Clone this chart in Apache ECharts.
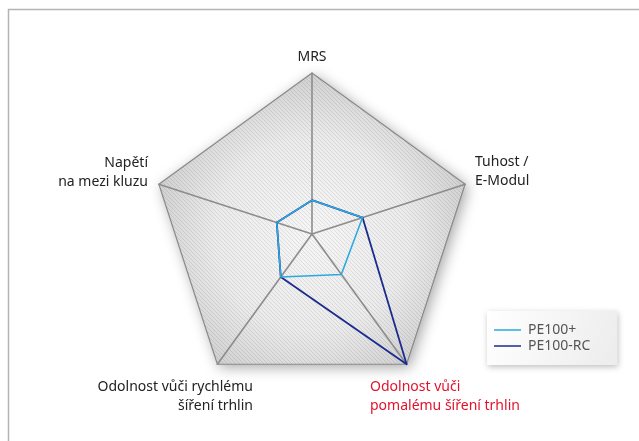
<!DOCTYPE html>
<html>
<head>
<meta charset="utf-8">
<script src="https://cdn.jsdelivr.net/npm/echarts@6/dist/echarts.min.js"></script>
<style>
  html, body { margin: 0; padding: 0; background: #fff; }
  #chart { width: 639px; height: 441px; }
</style>
</head>
<body>
<div id="chart"></div>
<script>
// Indicators, in ECharts radar order (top first, then counter-clockwise)
const categories = [
  'MRS',
  'Napětí\nna mezi kluzu',
  'Odolnost vůči rychlému\nšíření trhlin',
  'Odolnost vůči\npomalému šíření trhlin',
  'Tuhost /\nE-Modul'
];
const highlighted = [false, false, false, true, false];
const axisMax = 100;

const seriesNames = ['PE100+', 'PE100-RC'];
const pe100Plus = [21, 23, 33, 31, 33];
const pe100RC = [21, 23, 33, 100, 33];

// Diagonal hatch tile for the web background
function hatchTile() {
  const c = document.createElement('canvas');
  c.width = 4; c.height = 4;
  const g = c.getContext('2d');
  g.strokeStyle = 'rgba(0,0,0,0.085)';
  g.lineWidth = 1;
  g.beginPath();
  g.moveTo(-1, -1); g.lineTo(5, 5);
  g.moveTo(-1, 3); g.lineTo(1, 5);
  g.moveTo(3, -1); g.lineTo(5, 1);
  g.stroke();
  return c;
}

const center = [312, 234];
const radius = 161;
const indicator = categories.map(n => ({ name: n, max: axisMax, min: 0 }));

function baseRadar(z) {
  return {
    z: z,
    center: center,
    radius: radius,
    startAngle: 90,
    splitNumber: 1,
    shape: 'polygon',
    indicator: indicator,
    axisName: { show: false },
    axisLine: { show: false },
    axisTick: { show: false },
    axisLabel: { show: false },
    splitLine: { show: false },
    splitArea: { show: false }
  };
}

// Layer 0: shaded fill with drop shadow
const rShade = baseRadar(0);
rShade.splitArea = {
  show: true,
  areaStyle: {
    color: [{
      type: 'radial', x: 0.5, y: 0.553, r: 0.553,
      colorStops: [
        { offset: 0, color: '#f6f6f6' },
        { offset: 0.6, color: '#ebebeb' },
        { offset: 1, color: '#d0d0d0' }
      ]
    }],
    shadowBlur: 14,
    shadowColor: 'rgba(0,0,0,0.35)',
    shadowOffsetX: 3,
    shadowOffsetY: 3
  }
};

// Layer 1: hatch texture
const rHatch = baseRadar(1);
rHatch.splitArea = {
  show: true,
  areaStyle: { color: [{ image: hatchTile(), repeat: 'repeat' }] }
};

// Layer 2: spokes and outline
const rLines = baseRadar(2);
rLines.axisLine = { show: true, lineStyle: { color: '#8d8d8d', width: 1.6 } };
rLines.splitLine = { show: true, lineStyle: { color: '#8a8a8a', width: 1.2 } };

// Indicator labels, placed beside each vertex
const labelPlacement = [
  { x: 312, y: 57, align: 'center' },
  { x: 148, y: 163, align: 'right' },
  { x: 253, y: 387, align: 'right' },
  { x: 370, y: 387, align: 'left' },
  { x: 475, y: 162, align: 'left' }
];
const labelGraphics = categories.map((name, i) => ({
  type: 'text',
  x: labelPlacement[i].x,
  y: labelPlacement[i].y - 9.5,
  style: {
    text: name,
    fill: highlighted[i] ? '#e3122c' : '#222',
    font: '14px "Noto Sans"',
    align: labelPlacement[i].align,
    verticalAlign: 'top',
    lineHeight: 19
  }
}));

const chart = echarts.init(document.getElementById('chart'), null, { renderer: 'canvas' });
chart.setOption({
  animation: false,
  backgroundColor: '#fff',
  radar: [rShade, rHatch, rLines],
  legend: {
    orient: 'vertical',
    left: 487,
    top: 311,
    padding: [12, 27, 12, 7],
    itemGap: 2,
    itemWidth: 27,
    itemHeight: 1.5,
    icon: 'rect',
    textStyle: { color: '#555', fontSize: 14, fontFamily: 'Noto Sans', padding: [0, 0, 0, 2] },
    backgroundColor: {
      type: 'linear', x: 0, y: 0, x2: 1, y2: 1,
      colorStops: [{ offset: 0, color: '#ffffff' }, { offset: 1, color: '#ececec' }]
    },
    shadowBlur: 6,
    shadowColor: 'rgba(0,0,0,0.25)',
    shadowOffsetX: 1,
    shadowOffsetY: 2,
    data: seriesNames
  },
  graphic: [
    { type: 'line', shape: { x1: 8, y1: 9.5, x2: 639, y2: 9.5 }, style: { stroke: '#b4b4b4', lineWidth: 1.5 } },
    { type: 'line', shape: { x1: 8.5, y1: 9, x2: 8.5, y2: 441 }, style: { stroke: '#b4b4b4', lineWidth: 1.5 } }
  ].concat(labelGraphics),
  series: [{
    type: 'radar',
    radarIndex: 2,
    z: 5,
    symbol: 'none',
    data: [
      { name: seriesNames[1], value: pe100RC, lineStyle: { color: '#1b2b8e', width: 1.8 }, itemStyle: { color: '#1b2b8e' } },
      { name: seriesNames[0], value: pe100Plus, lineStyle: { color: '#2aa9e0', width: 1.5 }, itemStyle: { color: '#2aa9e0' } }
    ]
  }]
});
</script>
</body>
</html>
